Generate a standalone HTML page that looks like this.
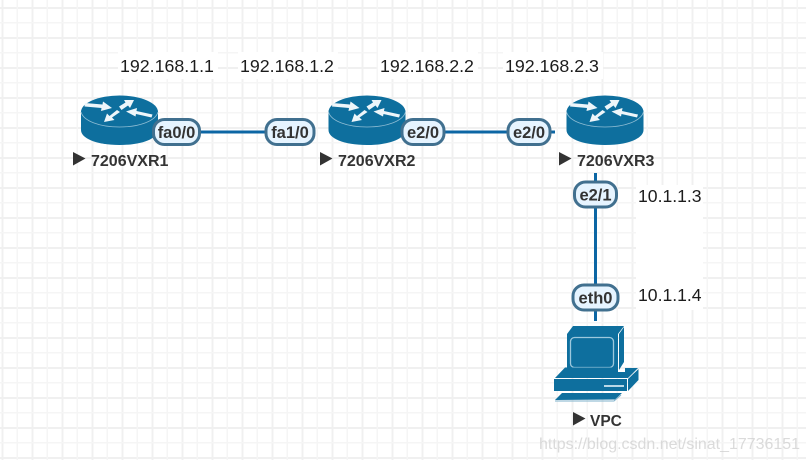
<!DOCTYPE html>
<html><head><meta charset="utf-8">
<style>
html,body{margin:0;padding:0;background:#fff}
svg{display:block}
text{font-family:"Liberation Sans",sans-serif}
</style></head>
<body>
<svg width="806" height="460" viewBox="0 0 806 460" xmlns="http://www.w3.org/2000/svg">
<defs>
<pattern id="g" x="1.5" y="7" width="30" height="30" patternUnits="userSpaceOnUse">
<rect x="0" y="0" width="2" height="30" fill="#f0f0f0"/>
<rect x="0" y="0" width="30" height="2" fill="#f0f0f0"/>
<rect x="15" y="0" width="1.5" height="30" fill="#f5f5f5"/>
<rect x="0" y="15" width="30" height="1.5" fill="#f5f5f5"/>
</pattern>
<g id="r">
<path d="M-38.500 0V18C-38.500 26 -24 33 0 33S38.500 26 38.500 18V0Z" fill="#0e6f9e"/>
<ellipse cx="0" cy="0" rx="38.500" ry="16.500" fill="#0e6f9e"/>
<path d="M-38.500 0C-36 9 -20 15 0 15S36 9 38.500 0" fill="none" stroke="#8fbdd4" stroke-width="0.8"/>
<g fill="#eef6fa" stroke="none">
<path d="M-34.500 -9L-17 -7.500L-16.500 -10.500L-7.500 -4L-18.500 -1L-18 -4L-35 -5.500Z"/>
<path d="M-0.500 -5.500L6 -9.500L4.500 -12L14.500 -12L10.500 -4L8.500 -6.500L2 -2Z"/>
<path d="M0.500 0L-7.500 5.500L-5 8L-15.500 10L-12.500 1.500L-10 4L-2.500 -2Z"/>
<path d="M33 2.500L17 -1L17.500 -4L6.500 -0.500L16 4.500L16.500 2L32 5.500Z"/>
</g>
</g>
<g id="t"><path d="M0 0L12.500 6.500L0 13.500Z" fill="#333"/></g>
</defs>
<rect width="806" height="460" fill="#fff"/>
<rect width="806" height="460" fill="url(#g)"/>

<rect x="118" y="52" width="100" height="27" fill="#fff"/>
<rect x="238" y="52" width="100" height="27" fill="#fff"/>
<rect x="378" y="52" width="100" height="27" fill="#fff"/>
<rect x="503" y="52" width="100" height="27" fill="#fff"/>
<rect x="636" y="185" width="67" height="125" fill="#fff"/>

<path d="M200 132H268M440 132H510M550 132H555" stroke="#0c66a4" stroke-width="3" fill="none"/>
<path d="M595.500 173V184M595.500 205V287M595.500 310V321" stroke="#0c66a4" stroke-width="3" fill="none"/>

<use href="#r" x="119.500" y="112"/>
<use href="#r" x="367" y="112"/>
<use href="#r" x="605" y="112"/>

<path d="M573 326H624L618 334H567Z" fill="#0e6f9e"/>
<rect x="567" y="334" width="51" height="37" fill="#0e6f9e"/>
<path d="M619 334L624 327V362L619 370Z" fill="#0e6f9e"/>
<rect x="570.500" y="337.500" width="43" height="30" rx="4" fill="#0e6f9e" stroke="#9cc8dd" stroke-width="1.300"/>
<path d="M565 367.500H618V372H625V368H638L628 378H555Z" fill="#0e6f9e"/>
<rect x="554" y="379" width="73" height="12" fill="#0e6f9e"/>
<path d="M628 379L638.500 369V380L628 391Z" fill="#0e6f9e"/>
<rect x="604" y="385" width="20" height="2" fill="#b8d8e7"/>
<path d="M562 393H622L615 399.500L555 400Z" fill="#0e6f9e"/>
<path d="M555 401H614L621 395" fill="none" stroke="#7fb2cb" stroke-width="1"/>

<g font-size="17.800" fill="#1c1c1c">
<text x="120" y="72">192.168.1.1</text>
<text x="240" y="72">192.168.1.2</text>
<text x="380" y="72">192.168.2.2</text>
<text x="505" y="72">192.168.2.3</text>
</g>
<g font-size="17.600" fill="#1c1c1c">
<text x="638" y="202">10.1.1.3</text>
<text x="638" y="301">10.1.1.4</text>
</g>

<g fill="#e6f4ff" stroke="#41708f" stroke-width="3">
<rect x="153.500" y="119.500" width="46" height="25" rx="11"/>
<rect x="266" y="119.500" width="48" height="25" rx="11"/>
<rect x="402" y="119.500" width="42" height="25" rx="11"/>
<rect x="508" y="119.500" width="42" height="25" rx="11"/>
<rect x="574.500" y="182" width="42" height="25" rx="11"/>
<rect x="573" y="285" width="45" height="25" rx="11"/>
</g>
<g font-size="16.500" font-weight="bold" fill="#333" text-anchor="middle" stroke="none">
<text x="176.500" y="138">fa0/0</text>
<text x="290" y="138">fa1/0</text>
<text x="423" y="138">e2/0</text>
<text x="529" y="138">e2/0</text>
<text x="595.500" y="200.500">e2/1</text>
<text x="595.500" y="303.500">eth0</text>
</g>

<use href="#t" x="73" y="152"/>
<use href="#t" x="320" y="152"/>
<use href="#t" x="559" y="152"/>
<use href="#t" x="573" y="412"/>
<g font-size="16" font-weight="bold" fill="#333">
<text x="91" y="166">7206VXR1</text>
<text x="338" y="166">7206VXR2</text>
<text x="577" y="166">7206VXR3</text>
<text x="590" y="426" font-size="15.500">VPC</text>
</g>

<text x="539" y="449" font-size="16" fill="#cccccc" fill-opacity="0.7" textLength="261" lengthAdjust="spacingAndGlyphs">https://blog.csdn.net/sinat_17736151</text>
</svg>
</body></html>
